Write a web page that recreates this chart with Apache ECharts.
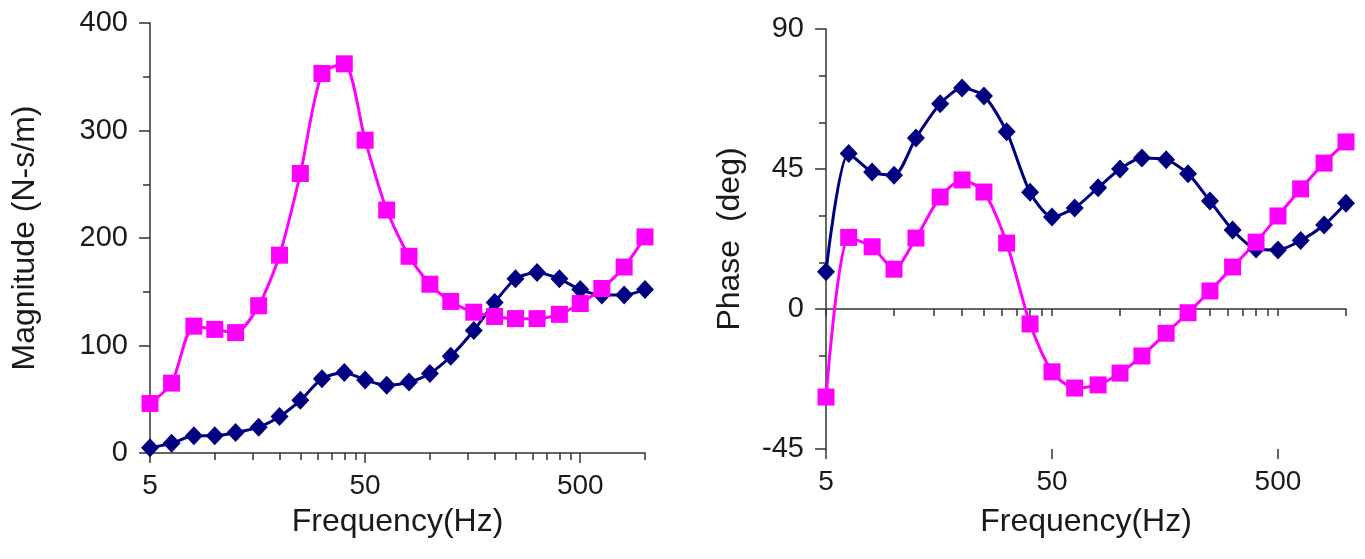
<!DOCTYPE html>
<html>
<head>
<meta charset="utf-8">
<script src="https://cdn.jsdelivr.net/npm/echarts@6/dist/echarts.min.js"></script>
<style>
  html, body { margin: 0; padding: 0; background: #fff; }
  #chart { width: 1365px; height: 559px; }
</style>
</head>
<body>
<div id="chart"></div>
<script>
// 1/3 octave band centre frequencies (Hz)
var freq = [5, 6.3, 8, 10, 12.5, 16, 20, 25, 31.5, 40, 50, 63, 80, 100, 125, 160, 200, 250, 315, 400, 500, 630, 800, 1000];

// magnitude (N-s/m)
var magBlue = [5, 9, 16, 16, 19, 24, 34, 49, 69, 75, 68, 63, 66, 74, 90, 114, 140, 162, 168, 162, 152, 147, 147, 152];
var magPink = [46, 65, 118, 115, 112, 137, 184, 260, 353, 362, 291, 226, 183, 157, 141, 131, 127, 125, 125, 129, 139, 153, 173, 201];

// phase (deg)
var phaseBlue = [12, 50, 44, 43, 55, 66, 71, 68.5, 57, 37.5, 29.6, 32.5, 39, 45, 48.5, 48, 43.5, 34.7, 25.4, 19.3, 19, 22, 27, 34];
var phasePink = [-28.3, 23, 20, 12.8, 22.8, 36, 41.5, 37.6, 21.2, -4.8, -20.2, -25.4, -24.4, -20.6, -15.1, -7.8, -1.2, 5.8, 13.5, 21.5, 29.9, 38.6, 46.9, 53.7];

// axis ticks / labels
var xLabels = [5, 50, 500];
var xMinorTicks = [5, 10, 15, 20, 25, 30, 35, 40, 45, 50, 100, 150, 200, 250, 300, 350, 400, 450, 500, 1000];

var font = 'Liberation Sans, Arial, sans-serif';
var axisColor = '#333';
var textColor = '#1a1a1a';

function pairs(xs, ys) {
  return xs.map(function (x, i) { return [x, ys[i]]; });
}

function xAxes(gridIndex) {
  return [
    {
      type: 'log', logBase: 10, gridIndex: gridIndex, position: 'bottom',
      min: 5, max: 1000,
      name: 'Frequency(Hz)', nameLocation: 'middle', nameGap: gridIndex === 0 ? 53 : 57,
      nameTextStyle: { fontFamily: font, fontSize: 32, color: textColor },
      axisLine: { lineStyle: { color: axisColor, width: 1.5 } },
      axisTick: { show: true, length: 7, lineStyle: { color: axisColor, width: 1.5 }, customValues: xMinorTicks },
      axisLabel: {
        customValues: xLabels, margin: 19,
        fontFamily: font, fontSize: 28, color: textColor,
        formatter: function (v) { return String(Math.round(v)); }
      },
      splitLine: { show: false },
      minorTick: { show: false }, minorSplitLine: { show: false }
    },
    {
      // longer ticks at the labelled values
      type: 'log', logBase: 10, gridIndex: gridIndex, position: 'bottom',
      min: 5, max: 1000,
      axisLine: { show: false },
      axisTick: { show: true, length: 10, lineStyle: { color: axisColor, width: 1.5 }, customValues: xLabels },
      axisLabel: { show: false },
      splitLine: { show: false }
    }
  ];
}

function yAxis(gridIndex, name, min, max, interval, split, gap) {
  return {
    type: 'value', gridIndex: gridIndex,
    min: min, max: max, interval: interval,
    name: name, nameLocation: 'middle', nameGap: gap,
    nameTextStyle: { fontFamily: font, fontSize: 32, color: textColor },
    axisLine: { show: true, lineStyle: { color: axisColor, width: 1.5 } },
    axisTick: { show: true, length: 11, lineStyle: { color: axisColor, width: 1.5 } },
    minorTick: { show: true, splitNumber: split, length: 7, lineStyle: { color: axisColor, width: 1.5 } },
    axisLabel: { margin: 22, fontFamily: font, fontSize: 29, color: textColor },
    splitLine: { show: false }
  };
}

function blueSeries(xi, yi, data) {
  return {
    type: 'line', xAxisIndex: xi, yAxisIndex: yi,
    data: data, smooth: 0.25,
    symbol: 'diamond', symbolSize: [18, 19],
    lineStyle: { color: '#000080', width: 3 },
    itemStyle: { color: '#000080' },
    animation: false
  };
}

function pinkSeries(xi, yi, data) {
  return {
    type: 'line', xAxisIndex: xi, yAxisIndex: yi,
    data: data, smooth: 0.25,
    symbol: 'rect', symbolSize: 17,
    lineStyle: { color: '#ff00ff', width: 3 },
    itemStyle: { color: '#ff00ff' },
    animation: false
  };
}

var myChart = echarts.init(document.getElementById('chart'), null, { renderer: 'canvas' });
myChart.setOption({
  backgroundColor: '#fff',
  animation: false,
  grid: [
    { left: 150, top: 23, width: 495, height: 430 },
    { left: 826, top: 29, width: 520, height: 420 }
  ],
  xAxis: xAxes(0).concat(xAxes(1)),
  yAxis: [
    yAxis(0, 'Magnitude (N-s/m)', 0, 400, 100, 2, 109),
    yAxis(1, 'Phase  (deg)', -45, 90, 45, 3, 80)
  ],
  series: [
    blueSeries(0, 0, pairs(freq, magBlue)),
    pinkSeries(0, 0, pairs(freq, magPink)),
    blueSeries(2, 1, pairs(freq, phaseBlue)),
    pinkSeries(2, 1, pairs(freq, phasePink))
  ]
});
</script>
</body>
</html>
